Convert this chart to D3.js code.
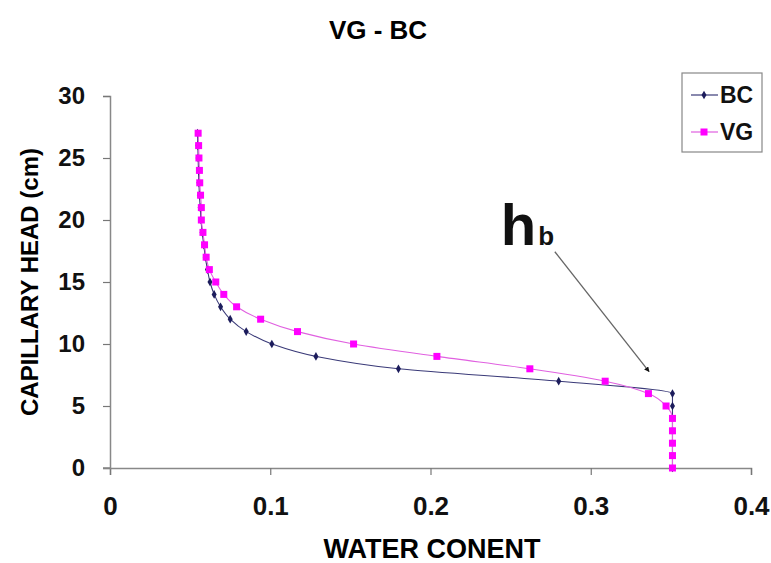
<!DOCTYPE html>
<html>
<head>
<meta charset="utf-8">
<script src="https://cdn.jsdelivr.net/npm/d3@7"></script>
<style>
  body { margin: 0; background: #fff; }
  text { font-family: "Liberation Sans", Arial, sans-serif; font-weight: bold; }
</style>
</head>
<body>
<div id="chart"></div>
<script>
// capillary head (cm), one point per cm
var head = [0, 1, 2, 3, 4, 5, 6, 7, 8, 9, 10, 11, 12, 13, 14, 15, 16, 17, 18, 19, 20, 21, 22, 23, 24, 25, 26, 27];

// water content, Brooks-Corey
var bcTheta = [0.351, 0.351, 0.351, 0.351, 0.351, 0.351, 0.351, 0.280, 0.180, 0.1285, 0.101, 0.085, 0.075, 0.069,
               0.065, 0.0624, 0.0608, 0.0595, 0.0585, 0.0575, 0.0568, 0.0563, 0.0558, 0.0555, 0.0552, 0.055, 0.0548, 0.0546];

// water content, van Genuchten
var vgTheta = [0.351, 0.351, 0.351, 0.351, 0.351, 0.347, 0.336, 0.309, 0.262, 0.204, 0.152, 0.117, 0.094, 0.079,
               0.071, 0.066, 0.062, 0.060, 0.059, 0.058, 0.057, 0.057, 0.0565, 0.056, 0.0558, 0.0555, 0.0553, 0.055];

var xTicks = [0, 0.1, 0.2, 0.3, 0.4],
    yTicks = [0, 5, 10, 15, 20, 25, 30];

// hb arrow, tail and tip in data units
var hbArrow = [[0.2776, 17.44], [0.3364, 7.77]];

var margin = {top: 96, right: 20, bottom: 95, left: 110},
    svg_dx = 771,
    svg_dy = 563,
    width = 641,
    height = svg_dy - margin.top - margin.bottom;

var x = d3.scaleLinear().domain([0, 0.4]).range([0, width]);
var y = d3.scaleLinear().domain([0, 30]).range([height, 0]);

var svgRoot = d3.select("#chart")
    .append("svg")
    .attr("width", svg_dx)
    .attr("height", svg_dy);

var svg = svgRoot.append("g")
    .attr("transform", "translate(" + margin.left + "," + margin.top + ")");

// title
svgRoot.append("text")
   .attr("x", 378)
   .attr("y", 39)
   .attr("text-anchor", "middle")
   .style("font-size", "26px")
   .text("VG - BC");

// axes
var xAxis = svg.append("g")
   .attr("transform", "translate(0," + height + ")")
   .call(d3.axisBottom(x).tickValues(xTicks).tickFormat(d => d === 0 ? "0" : d3.format(".1f")(d)).tickSize(7).tickPadding(22));

var yAxis = svg.append("g")
   .call(d3.axisLeft(y).tickValues(yTicks).tickSize(7).tickPadding(18));

[xAxis, yAxis].forEach(function(a, i) {
    a.select(".domain").attr("stroke", "#888").attr("stroke-width", 1.5);
    a.selectAll(".tick line").attr("stroke", "#777").attr("stroke-width", 1.2);
    a.selectAll(".tick text")
     .attr("fill", "#111")
     .style("font-size", i === 0 ? "26px" : "24px")
     .style("font-family", "'Liberation Sans', Arial, sans-serif")
     .style("font-weight", "bold");
});

// extend x axis line left to cover the y tick at 0
svg.append("line")
   .attr("x1", -7).attr("x2", 0)
   .attr("y1", height).attr("y2", height)
   .attr("stroke", "#888").attr("stroke-width", 1.5);

// axis titles
svgRoot.append("text")
   .attr("x", 432)
   .attr("y", 558)
   .attr("text-anchor", "middle")
   .style("font-size", "27px")
   .text("WATER CONENT");

svgRoot.append("text")
   .attr("transform", "translate(38," + (margin.top + height / 2) + ") rotate(-90)")
   .attr("text-anchor", "middle")
   .style("font-size", "24px")
   .text("CAPILLARY HEAD (cm)");

// curves
var bcData = head.map((h, i) => ({h: h, t: bcTheta[i]})),
    vgData = head.map((h, i) => ({h: h, t: vgTheta[i]}));

var line = d3.line()
    .x(d => x(d.t))
    .y(d => y(d.h))
    .curve(d3.curveMonotoneY);

var bcColor = "#1c1c5c",
    vgColor = "#ff00ff";

svg.append("path")
   .datum(bcData)
   .attr("d", line)
   .attr("fill", "none")
   .attr("stroke", "#3a3a78")
   .attr("stroke-width", 1.1);

svg.selectAll(".bcpt")
   .data(bcData)
   .enter()
   .append("path")
   .attr("class", "bcpt")
   .attr("d", d3.symbol().type(d3.symbolDiamond).size(22))
   .attr("transform", d => "translate(" + x(d.t) + "," + y(d.h) + ")")
   .attr("fill", bcColor);

svg.append("path")
   .datum(vgData)
   .attr("d", line)
   .attr("fill", "none")
   .attr("stroke", "#e060e0")
   .attr("stroke-width", 1.1);

svg.selectAll(".vgpt")
   .data(vgData)
   .enter()
   .append("rect")
   .attr("class", "vgpt")
   .attr("x", d => x(d.t) - 3.5)
   .attr("y", d => y(d.h) - 3.5)
   .attr("width", 7)
   .attr("height", 7)
   .attr("fill", vgColor);

// hb annotation
svgRoot.append("defs")
   .append("marker")
   .attr("id", "arrow")
   .attr("viewBox", "0 0 10 10")
   .attr("refX", 9).attr("refY", 5)
   .attr("markerWidth", 4).attr("markerHeight", 4)
   .attr("orient", "auto")
   .append("path")
   .attr("d", "M0,0L10,5L0,10z")
   .attr("fill", "#111");

svg.append("line")
   .attr("x1", x(hbArrow[0][0])).attr("y1", y(hbArrow[0][1]))
   .attr("x2", x(hbArrow[1][0])).attr("y2", y(hbArrow[1][1]))
   .attr("stroke", "#666")
   .attr("stroke-width", 1.3)
   .attr("marker-end", "url(#arrow)");

var hb = svg.append("text")
   .attr("x", x(hbArrow[0][0]) - 54)
   .attr("y", y(hbArrow[0][1]) - 7)
   .style("font-size", "58px")
   .attr("fill", "#111");
hb.append("tspan").text("h");
hb.append("tspan").style("font-size", "26px").attr("dx", 2).text("b");

// legend
var legend = svgRoot.append("g").attr("transform", "translate(682,73)");

legend.append("rect")
   .attr("width", 80)
   .attr("height", 79)
   .attr("fill", "#fff")
   .attr("stroke", "#888")
   .attr("stroke-width", 1.2);

var legendItems = [{name: "BC", stroke: "#3a3a78"}, {name: "VG", stroke: "#e060e0"}];

legendItems.forEach(function(item, i) {
    var cy = 22 + i * 37;
    legend.append("line")
       .attr("x1", 9).attr("x2", 36)
       .attr("y1", cy).attr("y2", cy)
       .attr("stroke", item.stroke)
       .attr("stroke-width", 1.2);
    if (item.name === "BC") {
        legend.append("path")
           .attr("d", d3.symbol().type(d3.symbolDiamond).size(22))
           .attr("transform", "translate(22," + cy + ")")
           .attr("fill", bcColor);
    } else {
        legend.append("rect")
           .attr("x", 18.5).attr("y", cy - 3.5)
           .attr("width", 7).attr("height", 7)
           .attr("fill", vgColor);
    }
    legend.append("text")
       .attr("x", 38)
       .attr("y", cy + 8)
       .style("font-size", "23px")
       .attr("fill", "#111")
       .text(item.name);
});
</script>
</body>
</html>
